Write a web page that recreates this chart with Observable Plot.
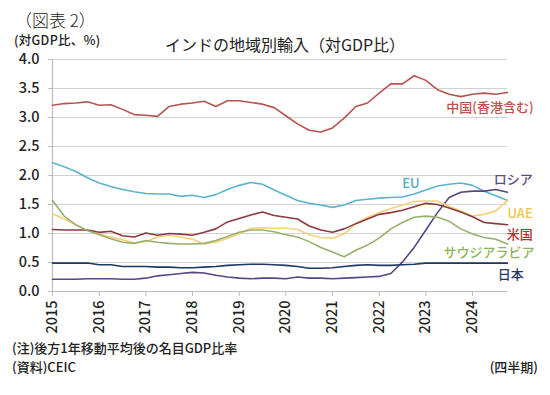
<!DOCTYPE html>
<html><head><meta charset="utf-8">
<script src="https://cdn.jsdelivr.net/npm/d3@7"></script>
<script src="https://cdn.jsdelivr.net/npm/@observablehq/plot@0.6"></script>
<style>
body{margin:0;background:#fff;}
#wrap{position:relative;width:550px;height:395px;overflow:hidden;font-family:"Noto Sans CJK JP","Noto Sans",sans-serif;color:#222;}
#wrap svg{position:absolute;left:0;top:0;}
.t{position:absolute;white-space:nowrap;line-height:1;}
</style></head>
<body><div id="wrap">
<div class="t" style="left:15px;top:11px;font-size:17px;font-weight:300;">（図表 2）</div>
<div class="t" style="left:14px;top:34px;font-size:12.5px;font-weight:500;letter-spacing:0.3px;">(対GDP比、%)</div>
<div class="t" style="left:285px;transform:translateX(-50%);top:36px;font-size:16px;">インドの地域別輸入（対GDP比）</div>
<div class="t" style="left:12px;top:341px;font-size:13px;font-weight:500;">(注)後方1年移動平均後の名目GDP比率</div>
<div class="t" style="left:12px;top:360px;font-size:13px;font-weight:500;">(資料)CEIC</div>
<div class="t" style="right:12px;top:360px;font-size:13px;font-weight:500;">(四半期)</div>
</div>
<script>
// quarterly periods 2015Q1 .. 2024Q4
const startYear = 2015;
const nQuarters = 40;
const yearTicks = [2015, 2016, 2017, 2018, 2019, 2020, 2021, 2022, 2023, 2024];
const yTicks = [0, 0.5, 1, 1.5, 2, 2.5, 3, 3.5, 4];

const seriesNames = ["中国(香港含む)", "EU", "ロシア", "UAE", "米国", "サウジアラビア", "日本"];

const china = [3.21,3.24,3.25,3.27,3.21,3.22,3.14,3.05,3.04,3.02,3.19,3.23,3.25,3.28,3.19,3.29,3.29,3.26,3.23,3.17,3.03,2.89,2.78,2.75,2.82,2.99,3.19,3.25,3.42,3.58,3.58,3.72,3.64,3.48,3.40,3.36,3.40,3.42,3.40,3.43];
const eu = [2.22,2.15,2.07,1.96,1.87,1.81,1.76,1.72,1.69,1.68,1.68,1.64,1.66,1.62,1.67,1.76,1.83,1.88,1.85,1.75,1.66,1.57,1.52,1.49,1.45,1.49,1.57,1.59,1.61,1.62,1.63,1.68,1.75,1.82,1.85,1.87,1.83,1.73,1.65,1.57];
const russia = [0.21,0.21,0.21,0.22,0.22,0.22,0.21,0.21,0.23,0.27,0.29,0.31,0.33,0.32,0.28,0.25,0.23,0.22,0.23,0.23,0.22,0.25,0.23,0.23,0.22,0.23,0.24,0.25,0.26,0.31,0.51,0.76,1.06,1.36,1.62,1.71,1.73,1.73,1.76,1.71];
const uae = [1.34,1.25,1.15,1.05,0.99,0.94,0.89,0.84,0.86,0.94,0.97,0.94,0.90,0.82,0.85,0.92,0.99,1.09,1.10,1.09,1.09,1.07,0.98,0.93,0.92,0.99,1.17,1.28,1.36,1.43,1.49,1.55,1.56,1.56,1.47,1.39,1.30,1.33,1.39,1.57];
const usa = [1.07,1.06,1.06,1.06,1.02,1.04,0.96,0.94,1.01,0.97,1.00,0.99,0.97,1.02,1.08,1.20,1.26,1.32,1.37,1.31,1.28,1.25,1.13,1.06,1.02,1.08,1.17,1.25,1.33,1.36,1.40,1.46,1.52,1.50,1.44,1.37,1.29,1.19,1.17,1.15];
const saudi = [1.57,1.30,1.15,1.05,0.98,0.91,0.85,0.83,0.88,0.85,0.83,0.82,0.82,0.83,0.88,0.95,1.02,1.06,1.06,1.03,0.98,0.94,0.86,0.76,0.68,0.60,0.71,0.80,0.92,1.08,1.19,1.28,1.30,1.28,1.21,1.08,0.99,0.93,0.90,0.82];
const japan = [0.49,0.49,0.49,0.49,0.46,0.46,0.43,0.43,0.43,0.42,0.42,0.41,0.41,0.42,0.43,0.45,0.46,0.47,0.47,0.46,0.45,0.43,0.40,0.40,0.41,0.43,0.45,0.46,0.45,0.45,0.46,0.47,0.49,0.49,0.49,0.49,0.49,0.49,0.49,0.49];

const seriesValues = [china, eu, russia, uae, usa, saudi, japan];

// styles
const lineColors = ["#b5544f", "#5db3cb", "#564682", "#f3d27c", "#8c3a3f", "#97b06e", "#1f3763"];
const labelColors = ["#c0504d", "#4bacc6", "#5f4a80", "#f2c44a", "#b0302f", "#8db45a", "#1f3864"];

// label anchor positions (data coordinates)
const labelPos = [
  {name: "中国(香港含む)", x: 2025.31, y: 3.16, anchor: "end"},
  {name: "EU", x: 2022.68, y: 1.86, anchor: "middle"},
  {name: "ロシア", x: 2025.29, y: 1.92, anchor: "end"},
  {name: "UAE", x: 2025.29, y: 1.34, anchor: "end"},
  {name: "米国", x: 2025.29, y: 0.98, anchor: "end"},
  {name: "サウジアラビア", x: 2025.33, y: 0.67, anchor: "end"},
  {name: "日本", x: 2025.1, y: 0.28, anchor: "end"}
];

const rows = [];
seriesNames.forEach((name, k) => {
  seriesValues[k].forEach((v, i) => rows.push({name, t: startYear + i / 4, v}));
});

const chart = Plot.plot({
  width: 550, height: 345,
  marginTop: 59, marginBottom: 54, marginLeft: 52, marginRight: 43,
  style: {fontFamily: '"Noto Sans CJK JP", "Noto Sans", sans-serif', fontSize: "14px", color: "#222", background: "transparent", overflow: "visible"},
  x: {domain: [startYear, startYear + (nQuarters - 1) / 4]},
  y: {domain: [0, 4]},
  color: {domain: seriesNames, range: lineColors},
  marks: [
    Plot.gridY(yTicks, {stroke: "#d2d2d2", strokeOpacity: 1, strokeWidth: 1.2}),
    Plot.ruleX([startYear], {stroke: "#bdbdbd", strokeWidth: 1.2}),
    Plot.ruleY([0], {stroke: "#bdbdbd", strokeWidth: 1.2}),
    Plot.axisY(yTicks, {tickSize: 4, tickPadding: 9, tickFormat: d => d.toFixed(1), stroke: "#bdbdbd", fill: "#222", fontWeight: 500, fontSize: 14.5, label: null}),
    Plot.axisX(yearTicks, {tickSize: 5, tickPadding: 4, tickRotate: -90, tickFormat: d => String(d), stroke: "#bdbdbd", fill: "#222", fontWeight: 500, fontSize: 14.5, label: null}),
    Plot.line(rows, {x: "t", y: "v", z: "name", stroke: "name", strokeWidth: 1.6}),
    ...labelPos.map((l, k) => Plot.text([l], {x: "x", y: "y", text: "name", textAnchor: l.anchor, fill: labelColors[seriesNames.indexOf(l.name)], fontSize: 13, fontWeight: 500}))
  ]
});
document.getElementById("wrap").prepend(chart);
</script>
</body></html>
